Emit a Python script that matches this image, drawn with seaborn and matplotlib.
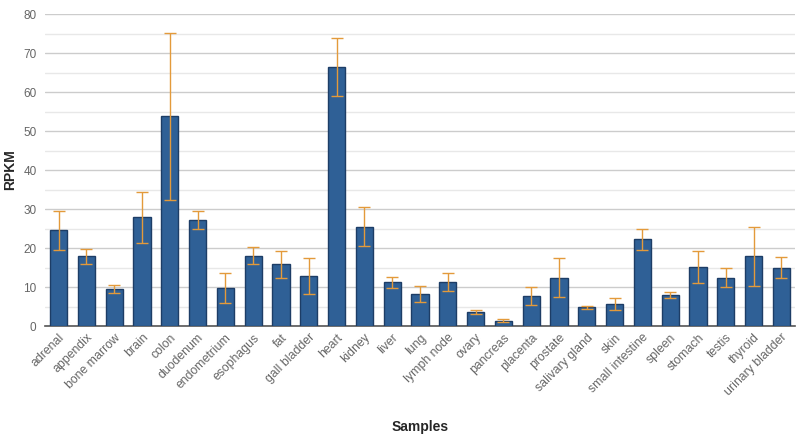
import numpy as np
import pandas as pd
import matplotlib
matplotlib.use("Agg")
import matplotlib.pyplot as plt
import seaborn as sns
from matplotlib.ticker import MultipleLocator

# tissue expression values
samples = ["adrenal", "appendix", "bone marrow", "brain", "colon", "duodenum",
           "endometrium", "esophagus", "fat", "gall bladder", "heart", "kidney",
           "liver", "lung", "lymph node", "ovary", "pancreas", "placenta",
           "prostate", "salivary gland", "skin", "small intestine", "spleen",
           "stomach", "testis", "thyroid", "urinary bladder"]
rpkm = [24.5, 17.9, 9.4, 27.9, 53.8, 27.1, 9.7, 18.0, 15.8, 12.8, 66.5, 25.5,
        11.2, 8.2, 11.2, 3.7, 1.4, 7.8, 12.4, 4.8, 5.7, 22.2, 8.0, 15.1,
        12.4, 17.9, 14.9]
err = [5.1, 1.9, 1.0, 6.5, 21.4, 2.3, 3.8, 2.2, 3.5, 4.7, 7.4, 4.9,
       1.4, 2.1, 2.3, 0.5, 0.3, 2.3, 5.0, 0.4, 1.5, 2.6, 0.8, 4.2,
       2.4, 7.6, 2.7]

df = pd.DataFrame({"Samples": samples, "RPKM": rpkm, "err": err})

sns.set_style("white")
plt.rcParams["font.family"] = ["Liberation Sans", "DejaVu Sans"]

fig = plt.figure(figsize=(8, 4.38), dpi=100)
ax = fig.add_axes([0.056, 0.2557, 0.938, 0.7123])

sns.barplot(data=df, x="Samples", y="RPKM", color="#2f6096",
            edgecolor="#1d3d66", linewidth=1, width=0.62, saturation=1,
            errorbar=None, ax=ax, zorder=3)
ax.errorbar(np.arange(len(df)), df["RPKM"], yerr=df["err"], fmt="none",
            ecolor="#e39a3b", elinewidth=1, capsize=4.5, capthick=1, zorder=4)

ax.set_xlim(-0.5, len(df) - 0.5)
ax.set_ylim(0, 80)
ax.yaxis.set_major_locator(MultipleLocator(10))
ax.yaxis.set_minor_locator(MultipleLocator(5))
ax.grid(axis="y", which="major", color="#cccccc", linewidth=1, zorder=0)
ax.grid(axis="y", which="minor", color="#e8e8e8", linewidth=1, zorder=0)
ax.set_axisbelow(True)

for s in ["top", "right", "left"]:
    ax.spines[s].set_visible(False)
ax.spines["bottom"].set_color("#555555")
ax.spines["bottom"].set_linewidth(1.2)

ax.tick_params(axis="y", which="both", length=0, labelsize=8.5,
               labelcolor="#666666", pad=6)
ax.tick_params(axis="x", length=0, labelsize=8.8, labelcolor="#666666", pad=4)
plt.setp(ax.get_xticklabels(), rotation=45, ha="right",
         rotation_mode="anchor")

ax.set_ylabel("RPKM", fontsize=10, fontweight="bold")
ax.yaxis.set_label_coords(-0.037, 0.5)
ax.set_xlabel("Samples", fontsize=10, fontweight="bold")
ax.xaxis.set_label_coords(0.5, -0.3)

plt.savefig("out.png", dpi=100)
plt.close()
